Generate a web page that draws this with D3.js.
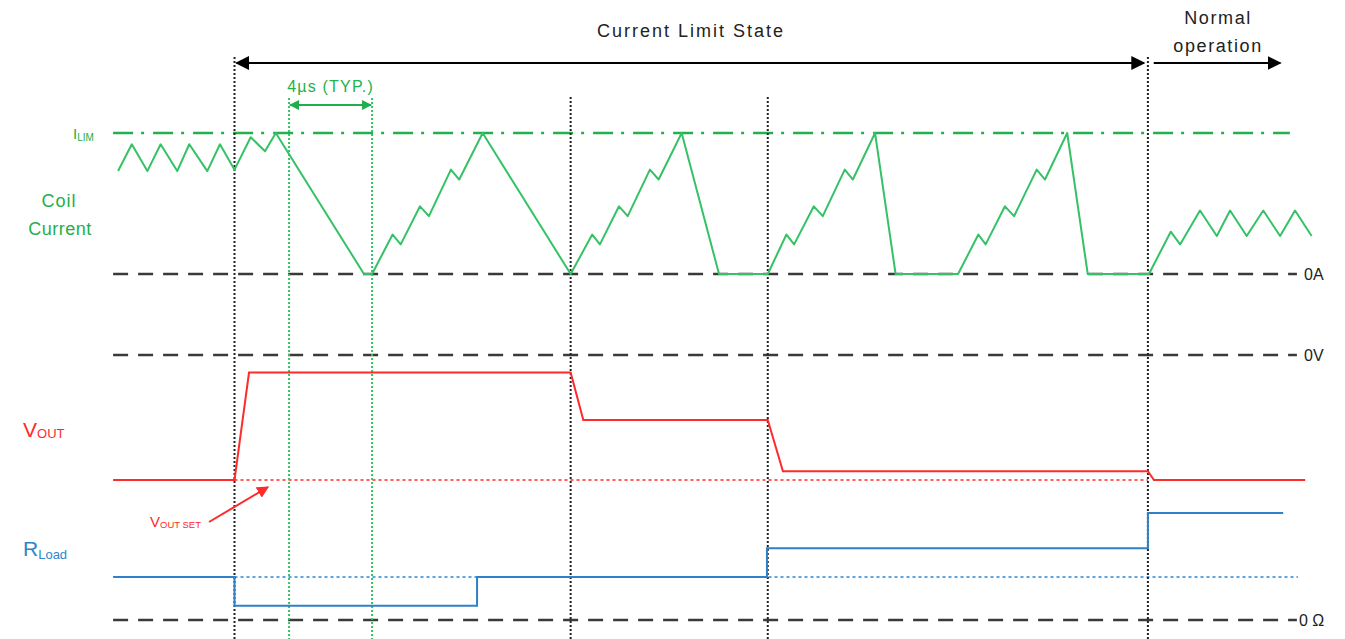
<!DOCTYPE html>
<html><head><meta charset="utf-8">
<script src="https://cdn.jsdelivr.net/npm/d3@7"></script>
<style>body{margin:0;background:#fff}svg{display:block}text{font-family:"Liberation Sans",Arial,sans-serif}</style>
</head><body><svg id="c" width="1345" height="639"></svg>
<script>
// ---- data (time in µs, t = 0 is entry into current limit) ----
const coilTime = [-5.61,-4.95,-4.20,-3.56,-2.76,-2.18,-1.31,-0.70,0.00,0.78,1.47,1.99,6.24,6.63,
  7.62,8.01,8.94,9.37,10.43,10.83,11.96,16.20,
  17.24,17.61,18.53,18.95,20.02,20.44,21.55,23.35,25.70,
  26.60,26.97,27.92,28.35,29.41,29.80,30.87,31.86,34.87,
  35.85,36.20,37.13,37.57,38.66,39.06,40.13,41.12,44.07,
  45.12,45.57,46.53,47.34,47.98,48.78,49.58,50.39,51.11,51.91];
const coilCurrent = [0.73,0.92,0.73,0.92,0.73,0.92,0.73,0.92,0.74,0.97,0.87,1.00,0.00,0.00,
  0.28,0.21,0.48,0.41,0.74,0.67,1.00,0.00,
  0.28,0.21,0.48,0.41,0.74,0.67,1.00,0.00,0.00,
  0.28,0.21,0.48,0.41,0.74,0.67,1.00,0.00,0.00,
  0.28,0.21,0.48,0.41,0.74,0.67,1.00,0.00,0.00,
  0.30,0.21,0.45,0.27,0.45,0.27,0.45,0.27,0.45,0.27]; // fraction of I_LIM
const voutTime  = [-5.85,0.00,0.70,16.20,16.81,25.70,26.43,44.02,44.31,51.60];
const voutLevel = [-1.00,-1.00,-0.14,-0.14,-0.52,-0.52,-0.93,-0.93,-1.00,-1.00]; // fraction of |VOUT SET|
const rloadTime  = [-5.85,0.00,11.69,25.66,44.02,50.54];
const rloadLevel = [1.00,0.33,1.00,1.67,2.49,2.49]; // fraction of nominal load
const phaseMarkers = [0, 16.2, 25.7, 44.02];
const typMarkers = [2.63, 6.63];
const phaseLabels = ["Current Limit State", "Normal", "operation"];
const zeroLabels = ["0A", "0V", "0 Ω"];
const typLabel = "4µs (TYP.)";

// ---- scales ----
const x = d3.scaleLinear().domain([-6, 52]).range([110, 1313.5]);
const yI = d3.scaleLinear().domain([0, 1]).range([274, 133]);
const yV = d3.scaleLinear().domain([0, -1]).range([355, 480]);
const yR = d3.scaleLinear().domain([0, 1]).range([620, 577]);

const svg = d3.select("#c");
svg.append("rect").attr("width",1345).attr("height",639).attr("fill","#fff");

const defs = svg.append("defs");
function marker(id, color, size){
  defs.append("marker").attr("id",id).attr("viewBox","0 0 10 10").attr("refX",9).attr("refY",5)
    .attr("markerWidth",size).attr("markerHeight",size).attr("markerUnits","userSpaceOnUse")
    .attr("orient","auto-start-reverse")
    .append("path").attr("d","M0,0 L10,5 L0,10 z").attr("fill",color);
}
marker("ab","#000",14); marker("ag","#1fae4c",10); marker("ar","#ff2a2a",12);

const GREEN="#35c267", GREEN_T="#22b04b", RED="#ff2a2a", BLUE="#2f80c8", BLUE_L="#5ea4de", DARK="#3a3a3a";
const tL = -5.85, tR = 51.2;

function hline(t0,t1,yy,stroke,w,dash){
  svg.append("line").attr("x1",x(t0)).attr("x2",x(t1)).attr("y1",yy).attr("y2",yy)
    .attr("stroke",stroke).attr("stroke-width",w).attr("stroke-dasharray",dash);
}
// reference horizontal lines
hline(tL, 50.86, yI(1), "#22b14c", 2.5, "20,8,3,9");
hline(tL, tR, yI(0), DARK, 2.5, "15,10");
hline(tL, tR, yV(0), DARK, 2.5, "15,10");
hline(0, 44.02, yV(-1), RED, 1.5, "3,3");
hline(0, 51.25, yR(1), BLUE_L, 2, "3,3");
hline(tL, tR, yR(0), DARK, 2.5, "15,10");

// vertical markers
phaseMarkers.forEach((t,i)=>{
  svg.append("line").attr("x1",x(t)).attr("x2",x(t)).attr("y1",(i===0||i===3)?57:97).attr("y2",639)
    .attr("stroke","#222").attr("stroke-width",2).attr("stroke-dasharray","2,2");
});
typMarkers.forEach(t=>{
  svg.append("line").attr("x1",x(t)).attr("x2",x(t)).attr("y1",98).attr("y2",639)
    .attr("stroke",GREEN).attr("stroke-width",2).attr("stroke-dasharray","2,2");
});

// traces
const coilLine = d3.line().x(d=>x(d[0])).y(d=>yI(d[1]));
svg.append("path").attr("d",coilLine(d3.zip(coilTime,coilCurrent)))
  .attr("fill","none").attr("stroke",GREEN).attr("stroke-width",2).attr("stroke-linejoin","round");
const voutLine = d3.line().x(d=>x(d[0])).y(d=>yV(d[1]));
svg.append("path").attr("d",voutLine(d3.zip(voutTime,voutLevel)))
  .attr("fill","none").attr("stroke",RED).attr("stroke-width",2);
const rLine = d3.line().curve(d3.curveStepAfter).x(d=>x(d[0])).y(d=>yR(d[1]));
svg.append("path").attr("d",rLine(d3.zip(rloadTime,rloadLevel)))
  .attr("fill","none").attr("stroke",BLUE).attr("stroke-width",2);

// arrows
svg.append("line").attr("x1",x(0)+2).attr("x2",x(44.02)-4).attr("y1",63).attr("y2",63)
  .attr("stroke","#000").attr("stroke-width",2).attr("marker-start","url(#ab)").attr("marker-end","url(#ab)");
svg.append("line").attr("x1",x(44.3)).attr("x2",x(50.4)).attr("y1",63).attr("y2",63)
  .attr("stroke","#000").attr("stroke-width",2).attr("marker-end","url(#ab)");
svg.append("line").attr("x1",x(typMarkers[0])+1).attr("x2",x(typMarkers[1])-1).attr("y1",105).attr("y2",105)
  .attr("stroke","#1fae4c").attr("stroke-width",2).attr("marker-start","url(#ag)").attr("marker-end","url(#ag)");
svg.append("line").attr("x1",209).attr("x2",268).attr("y1",522).attr("y2",487)
  .attr("stroke",RED).attr("stroke-width",2).attr("marker-end","url(#ar)");

// texts
function txt(s,xx,yy,size,fill,anchor){
  return svg.append("text").attr("x",xx).attr("y",yy).attr("font-size",size).attr("fill",fill)
    .attr("text-anchor",anchor||"start").text(s);
}
txt(phaseLabels[0], x(22.0), 37, 18, "#222", "middle").attr("letter-spacing",2);
txt(phaseLabels[1], x(47.4), 24, 18, "#222", "middle").attr("letter-spacing",1.6);
txt(phaseLabels[2], x(47.4), 52, 18, "#222", "middle").attr("letter-spacing",1.6);
txt(typLabel, x(4.63), 92, 16, GREEN_T, "middle").attr("letter-spacing",1.2);
txt(zeroLabels[0], 1304, yI(0)+6, 16, "#222");
txt(zeroLabels[1], 1304, yV(0)+6, 16, "#222");
txt(zeroLabels[2], 1299, yR(0)+6, 16, "#222");

// left labels with subscripts
function sublabel(main, sub, xx, yy, s1, s2, fill, dy){
  const t = svg.append("text").attr("x",xx).attr("y",yy).attr("fill",fill).attr("font-size",s1);
  t.append("tspan").text(main);
  t.append("tspan").attr("font-size",s2).attr("dy",dy).text(sub);
}
sublabel("I","LIM",73,139,15,10,GREEN_T,2);
txt("Coil",59,207,18,GREEN_T,"middle").attr("letter-spacing",1);
txt("Current",60,235,18,GREEN_T,"middle").attr("letter-spacing",0.5);
sublabel("V","OUT",23,437,21,13,RED,1);
sublabel("R","Load",23,556,21,13,"#2e86c8",3);
sublabel("V","OUT SET",150,527,15,9.5,RED,1);
</script></body></html>
